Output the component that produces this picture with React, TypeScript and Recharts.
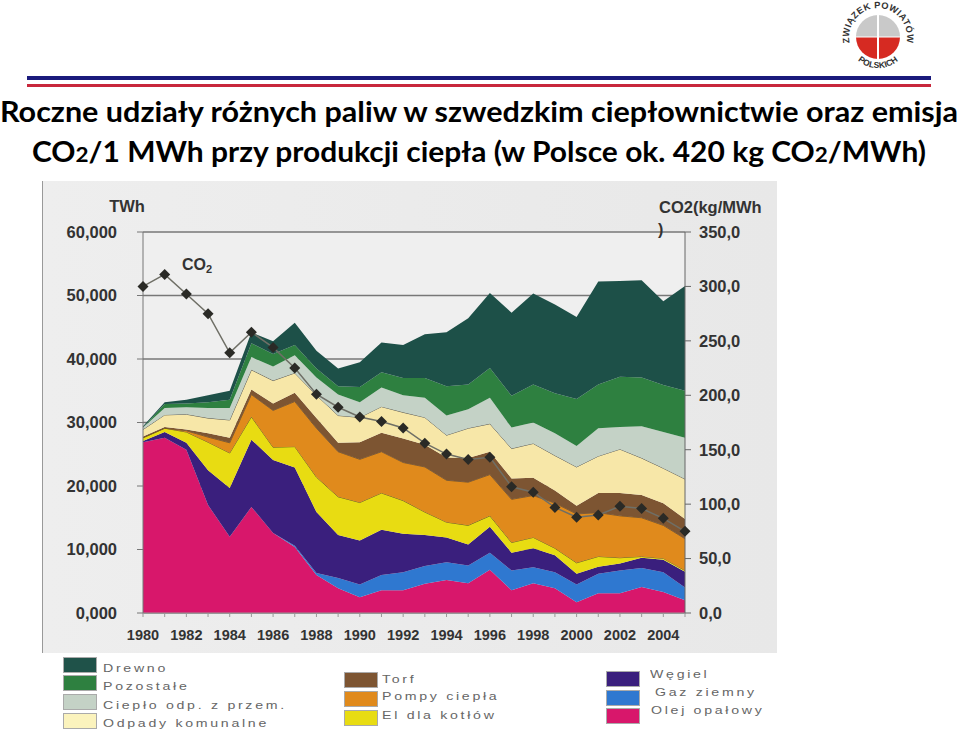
import { ComposedChart, Area, Line, XAxis, YAxis, CartesianGrid } from "recharts";

const years = [1980, 1981, 1982, 1983, 1984, 1985, 1986, 1987, 1988, 1989, 1990, 1991, 1992, 1993, 1994, 1995, 1996, 1997, 1998, 1999, 2000, 2001, 2002, 2003, 2004, 2005];

// TWh per fuel
const olej = [26.9, 27.6, 25.7, 17.0, 12.0, 16.7, 12.6, 10.4, 6.0, 3.9, 2.5, 3.6, 3.6, 4.6, 5.2, 4.7, 6.8, 3.6, 4.7, 3.9, 1.7, 3.1, 3.1, 4.1, 3.3, 2.0];
const gaz = [0, 0, 0, 0, 0, 0, 0, 0.2, 0.3, 1.6, 2.0, 2.4, 2.8, 2.8, 2.8, 2.8, 2.7, 3.1, 2.5, 2.5, 2.8, 3.1, 3.6, 3.0, 3.1, 2.0];
const wegiel = [0.2, 0.9, 1.1, 5.5, 7.7, 10.6, 11.5, 12.3, 9.6, 6.8, 6.9, 7.1, 6.1, 4.9, 3.9, 3.3, 4.1, 2.8, 3.0, 2.7, 1.7, 1.1, 1.1, 1.6, 2.0, 2.5];
const elKotly = [0.5, 0.6, 1.7, 4.4, 5.5, 3.6, 2.0, 3.3, 5.5, 6.0, 6.0, 5.8, 5.2, 3.6, 2.4, 3.0, 1.7, 1.6, 1.7, 1.1, 1.7, 1.6, 0.9, 0.2, 0.2, 0.2];
const pompy = [0, 0, 0.2, 0.8, 1.6, 3.5, 5.8, 7.1, 7.7, 7.1, 6.8, 6.5, 6.0, 7.1, 6.6, 6.8, 6.5, 6.8, 6.6, 7.1, 7.7, 6.9, 6.6, 6.1, 5.2, 5.0];
const torf = [0.2, 0.2, 0.2, 0.6, 0.8, 0.8, 1.1, 1.4, 1.6, 1.4, 2.7, 3.0, 3.8, 3.5, 3.6, 3.8, 3.6, 3.3, 2.8, 2.0, 1.3, 3.1, 3.6, 3.6, 3.5, 3.1];
const odpady = [1.1, 1.9, 2.4, 2.4, 2.8, 3.1, 3.6, 3.1, 3.6, 4.3, 3.9, 4.1, 4.1, 4.3, 3.5, 4.7, 4.4, 4.7, 5.4, 5.5, 6.1, 5.8, 6.9, 5.8, 5.5, 6.3];
const cieplo = [0.3, 1.1, 1.1, 1.6, 1.9, 2.0, 2.2, 2.8, 2.8, 3.3, 2.4, 3.0, 2.7, 3.1, 3.1, 3.0, 4.1, 3.3, 3.3, 3.5, 3.3, 4.4, 3.5, 5.0, 5.7, 6.5];
const pozostale = [0, 0.6, 0.6, 0.9, 1.3, 2.2, 2.0, 1.6, 1.4, 1.3, 2.4, 2.4, 2.7, 3.1, 4.6, 3.9, 4.7, 5.0, 6.0, 6.3, 7.4, 6.9, 7.9, 7.7, 7.4, 7.4];
const drewno = [0.2, 0.3, 0.6, 1.1, 1.4, 1.7, 2.0, 3.5, 2.8, 2.8, 3.9, 4.7, 5.2, 6.9, 8.5, 10.4, 11.8, 13.1, 14.3, 14.0, 12.9, 16.2, 15.1, 15.3, 13.2, 16.5];
const co2 = [300, 311, 293, 275, 239, 258, 244, 225, 201, 189, 180, 176, 170, 156, 146, 141, 143, 116, 111, 97, 88, 90, 98, 96, 87, 75];

const leftTicks = [0, 10, 20, 30, 40, 50, 60];
const leftLabels = ["0,000", "10,000", "20,000", "30,000", "40,000", "50,000", "60,000"];
const rightTicks = [0, 50, 100, 150, 200, 250, 300, 350];
const rightLabels = ["0,0", "50,0", "100,0", "150,0", "200,0", "250,0", "300,0", "350,0"];

const chartData = years.map((year, i) => ({
  year,
  olej: olej[i],
  gaz: gaz[i],
  wegiel: wegiel[i],
  elKotly: elKotly[i],
  pompy: pompy[i],
  torf: torf[i],
  odpady: odpady[i],
  cieplo: cieplo[i],
  pozostale: pozostale[i],
  drewno: drewno[i],
  co2: co2[i],
}));

// bottom of the stack first
const layers = [
  { key: "olej", fill: "#d8176b", stroke: "none" },
  { key: "gaz", fill: "#2f78d0", stroke: "none" },
  { key: "wegiel", fill: "#3a1f7d", stroke: "none" },
  { key: "elKotly", fill: "#e8dc12", stroke: "#4a4a20" },
  { key: "pompy", fill: "#e08a1c", stroke: "#6a4a20" },
  { key: "torf", fill: "#7d5532", stroke: "none" },
  { key: "odpady", fill: "#f7e7a8", stroke: "#333333" },
  { key: "cieplo", fill: "#c4d2c6", stroke: "none" },
  { key: "pozostale", fill: "#2e8040", stroke: "none" },
  { key: "drewno", fill: "#1d5048", stroke: "none" },
];

const legendColumns = [
  { left: 63, items: [
    { label: "Drewno", fill: "#1f5249", top: 657, textLeft: 103, textTop: 662 },
    { label: "Pozostałe", fill: "#2e8040", top: 675, textLeft: 103, textTop: 680 },
    { label: "Ciepło odp. z przem.", fill: "#c4d2c6", top: 694, textLeft: 103, textTop: 699 },
    { label: "Odpady komunalne", fill: "#fbf3bd", top: 713, textLeft: 103, textTop: 717 },
  ] },
  { left: 344, items: [
    { label: "Torf", fill: "#7d5532", top: 672, textLeft: 382, textTop: 673 },
    { label: "Pompy ciepła", fill: "#e08a1c", top: 691, textLeft: 382, textTop: 690 },
    { label: "El dla kotłów", fill: "#e8dc12", top: 710, textLeft: 382, textTop: 709 },
  ] },
  { left: 606, items: [
    { label: "Węgiel", fill: "#3a1f7d", top: 671, textLeft: 650, textTop: 668 },
    { label: "Gaz ziemny", fill: "#2f78d0", top: 690, textLeft: 655, textTop: 686 },
    { label: "Olej opałowy", fill: "#d8176b", top: 708, textLeft: 651, textTop: 704 },
  ] },
];

const axisFont = { fontFamily: "Liberation Sans", fontWeight: 700, fill: "#333333" };

function Diamond({ cx, cy, index }: { cx?: number; cy?: number; index?: number }) {
  if (cx == null || cy == null) return null;
  return <path key={index} d={`M${cx} ${cy - 5.5}L${cx + 5.5} ${cy}L${cx} ${cy + 5.5}L${cx - 5.5} ${cy}Z`} fill="#2a2a26" />;
}

function Logo() {
  return (
    <svg width={90} height={80} style={{ position: "absolute", left: 833, top: 0 }}>
      <defs>
        <path id="logoTop" d="M17.4 46A29 29 0 1 1 72.6 46" />
        <path id="logoBottom" d="M16 48A31 31 0 0 0 74 48" />
      </defs>
      <path d="M23 37A22 22 0 0 1 67 37Z" fill="#c9c9c9" />
      <path d="M23 37A22 22 0 0 0 67 37Z" fill="#d62a22" />
      <line x1={45} y1={15} x2={45} y2={59} stroke="#ffffff" strokeWidth={2} />
      <line x1={23} y1={37} x2={67} y2={37} stroke="#ffffff" strokeWidth={1} />
      <text fontFamily="Liberation Sans" fontWeight={700} fontSize={9.2} letterSpacing={0.4} fill="#333333">
        <textPath href="#logoTop" startOffset="50%" textAnchor="middle">ZWIĄZEK POWIATÓW</textPath>
      </text>
      <text fontFamily="Liberation Sans" fontWeight={700} fontSize={8.5} fill="#333333">
        <textPath href="#logoBottom" startOffset="50%" textAnchor="middle">POLSKICH</textPath>
      </text>
    </svg>
  );
}

function Title() {
  return (
    <svg width={960} height={180} style={{ position: "absolute", left: 0, top: 0 }}>
      <rect x={27} y={76} width={904} height={4} fill="#1a1a7c" />
      <rect x={27} y={84} width={904} height={3} fill="#c8283c" />
      <g fontFamily="Lato" fontWeight={700} fontSize={28} fill="#000000">
        <text x={0} y={122} textLength={958} lengthAdjust="spacingAndGlyphs">
          Roczne udziały różnych paliw w szwedzkim ciepłownictwie oraz emisja
        </text>
        <text x={32} y={162} textLength={894} lengthAdjust="spacingAndGlyphs">
          CO<tspan fontSize={21}>2</tspan>/1 MWh przy produkcji ciepła (w Polsce ok. 420 kg CO<tspan fontSize={21}>2</tspan>/MWh)
        </text>
      </g>
    </svg>
  );
}

function Legend() {
  return (
    <>
      {legendColumns.map((col) =>
        col.items.map((item) => (
          <div key={item.label}>
            <div style={{ position: "absolute", left: col.left, top: item.top, width: 34, height: 16, background: item.fill, border: "1px solid #aaaaaa", boxSizing: "border-box" }} />
            <div style={{ position: "absolute", left: item.textLeft, top: item.textTop, fontFamily: "Liberation Sans", fontSize: 11.5, letterSpacing: 2.2, color: "#666666", whiteSpace: "nowrap", transform: "scaleX(1.23)", transformOrigin: "left center" }}>
              {item.label}
            </div>
          </div>
        ))
      )}
    </>
  );
}

export default function App() {
  return (
    <div style={{ position: "absolute", left: 0, top: 0, width: 960, height: 734, background: "#ffffff", overflow: "hidden" }}>
      <Logo />
      <Title />
      <div style={{ position: "absolute", left: 42, top: 181, width: 735, height: 472, background: "linear-gradient(90deg, #eeeeee, #e8e8e8)", borderLeft: "1px solid #999999", boxSizing: "border-box" }} />
      <div style={{ position: "absolute", left: 143, top: 232, width: 542, height: 381, background: "#efefef" }} />
      <div style={{ position: "absolute", left: 0, top: 0 }}>
        <ComposedChart width={960} height={734} data={chartData} margin={{ top: 232, right: 215, bottom: 91, left: 83 }}>
          <CartesianGrid yAxisId="twh" vertical={false} stroke="#777777" strokeWidth={1.5} />
          <XAxis
            dataKey="year"
            scale="point"
            interval={0}
            height={30}
            stroke="#999999"
            tickSize={4}
            tickMargin={13}
            tick={{ ...axisFont, fontSize: 14.5 }}
            tickFormatter={(v: number) => (v % 2 === 0 && v < 2005 ? String(v) : "")}
          />
          <YAxis
            yAxisId="twh"
            domain={[0, 60]}
            ticks={leftTicks}
            width={60}
            stroke="#777777"
            tickSize={6}
            tickMargin={20}
            tick={{ ...axisFont, fontSize: 16.5 }}
            tickFormatter={(_v: number, i: number) => leftLabels[i]}
          />
          <YAxis
            yAxisId="co2"
            orientation="right"
            domain={[0, 350]}
            ticks={rightTicks}
            width={60}
            stroke="#666666"
            tickSize={6}
            tickMargin={8}
            tick={{ ...axisFont, fontSize: 16.5 }}
            tickFormatter={(_v: number, i: number) => rightLabels[i]}
          />
          {layers.map((l) => (
            <Area
              key={l.key}
              yAxisId="twh"
              stackId="paliwa"
              type="linear"
              dataKey={l.key}
              fill={l.fill}
              fillOpacity={1}
              stroke={l.stroke}
              strokeWidth={0.8}
              dot={false}
              activeDot={false}
              isAnimationActive={false}
            />
          ))}
          <Line
            yAxisId="co2"
            type="linear"
            dataKey="co2"
            stroke="#6f6f66"
            strokeWidth={1.5}
            dot={(p: any) => <Diamond cx={p.cx} cy={p.cy} index={p.index} />}
            activeDot={false}
            isAnimationActive={false}
          />
          <text x={127} y={212} textAnchor="middle" {...axisFont} fontSize={16.5}>TWh</text>
          <text x={659} y={213} {...axisFont} fontSize={16.5}>CO2(kg/MWh</text>
          <text x={658} y={235} {...axisFont} fontSize={16}>)</text>
          <text x={182} y={270} {...axisFont} fontSize={16}>
            CO<tspan fontSize={11} dy={3}>2</tspan>
          </text>
        </ComposedChart>
      </div>
      <Legend />
    </div>
  );
}
